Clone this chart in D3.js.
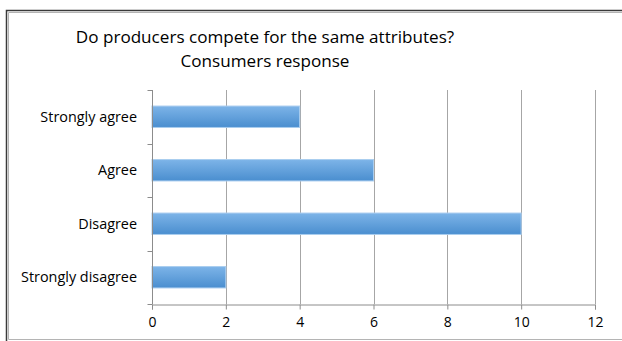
<!DOCTYPE html>
<html>
<head>
<meta charset="utf-8">
<script src="https://cdn.jsdelivr.net/npm/d3@7"></script>
<style>
  html, body { margin: 0; padding: 0; background: #fff; }
  svg { display: block; }
  text { font-family: "Open Sans", "Noto Sans", sans-serif; fill: #000; }
</style>
</head>
<body>
<svg id="chart" width="622" height="341"></svg>
<script>
// Survey responses, top to bottom
const categories = ["Strongly agree", "Agree", "Disagree", "Strongly disagree"];
const responses = [4, 6, 10, 2];
const xTicks = [0, 2, 4, 6, 8, 10, 12];
const titleLines = ["Do producers compete for the same attributes?", "Consumers response"];

const W = 622, H = 341;
const margin = { left: 152, right: 27, top: 90, bottom: 37 };
const svg = d3.select("#chart");

// Frame: dark outer line with a light inner line
svg.append("path")
  .attr("d", `M6.5,${H} V10.5 H${W}`)
  .attr("fill", "none").attr("stroke", "#3a3a3a").attr("stroke-width", 1.5);
svg.append("path")
  .attr("d", `M8.5,339.5 V12.5 H${W}`)
  .attr("fill", "none").attr("stroke", "#b4b4b4").attr("stroke-width", 1);
svg.append("line")
  .attr("x1", 8.5).attr("x2", W).attr("y1", 339.5).attr("y2", 339.5)
  .attr("stroke", "#b4b4b4");

const x = d3.scaleLinear().domain([0, 12]).range([margin.left, W - margin.right]);
const y = d3.scaleBand().domain(categories)
  .range([margin.top, H - margin.bottom]).paddingInner(0.6).paddingOuter(0.3);
const yEdges = d3.scaleLinear().domain([0, categories.length])
  .range([margin.top, H - margin.bottom]);

// Title
const title = svg.append("text")
  .attr("text-anchor", "middle").attr("font-size", 17.1);
titleLines.forEach((t, i) => {
  title.append("tspan").attr("x", 265).attr("y", 43 + i * 23.5).text(t);
});

// Vertical gridlines
svg.append("g").selectAll("line")
  .data(xTicks.filter(d => d > 0)).join("line")
  .attr("x1", d => Math.round(x(d)) + 0.5).attr("x2", d => Math.round(x(d)) + 0.5)
  .attr("y1", margin.top).attr("y2", H - margin.bottom)
  .attr("stroke", "#a6a6a6");

// Bar gradient
const defs = svg.append("defs");
const grad = defs.append("linearGradient").attr("id", "barFill")
  .attr("x1", 0).attr("y1", 0).attr("x2", 0).attr("y2", 1);
grad.append("stop").attr("offset", "0%").attr("stop-color", "#7db4e8");
grad.append("stop").attr("offset", "100%").attr("stop-color", "#4a8ecf");

svg.append("g").selectAll("rect")
  .data(categories).join("rect")
  .attr("x", x(0))
  .attr("y", d => y(d))
  .attr("width", (d, i) => x(responses[i]) - x(0))
  .attr("height", y.bandwidth())
  .attr("fill", "url(#barFill)")
  .attr("stroke", "#a9cdef").attr("stroke-width", 1);

// Category axis
const yAxis = svg.append("g").attr("transform", `translate(${margin.left + 0.5},0)`);
yAxis.append("line").attr("y1", margin.top).attr("y2", H - margin.bottom)
  .attr("stroke", "#8c8c8c");
yAxis.selectAll("line.tick")
  .data(d3.range(categories.length + 1)).join("line").attr("class", "tick")
  .attr("x1", -5).attr("x2", 0)
  .attr("y1", d => Math.round(yEdges(d)) + 0.5).attr("y2", d => Math.round(yEdges(d)) + 0.5)
  .attr("stroke", "#8c8c8c");
yAxis.selectAll("text")
  .data(categories).join("text")
  .attr("x", -15.5).attr("y", d => y(d) + y.bandwidth() / 2)
  .attr("dy", "0.35em").attr("text-anchor", "end").attr("font-size", 14.4)
  .text(d => d);

// Value axis
const xAxis = svg.append("g")
  .attr("transform", `translate(0,${H - margin.bottom + 0.5})`)
  .call(d3.axisBottom(x).tickValues(xTicks).tickSize(5).tickPadding(8).tickFormat(d3.format("d")));
xAxis.select(".domain").attr("stroke", "#8c8c8c");
xAxis.selectAll(".tick line").attr("stroke", "#8c8c8c");
xAxis.selectAll(".tick text").attr("font-size", 14)
  .attr("font-family", "\"Open Sans\", \"Noto Sans\", sans-serif").attr("fill", "#000");
</script>
</body>
</html>
